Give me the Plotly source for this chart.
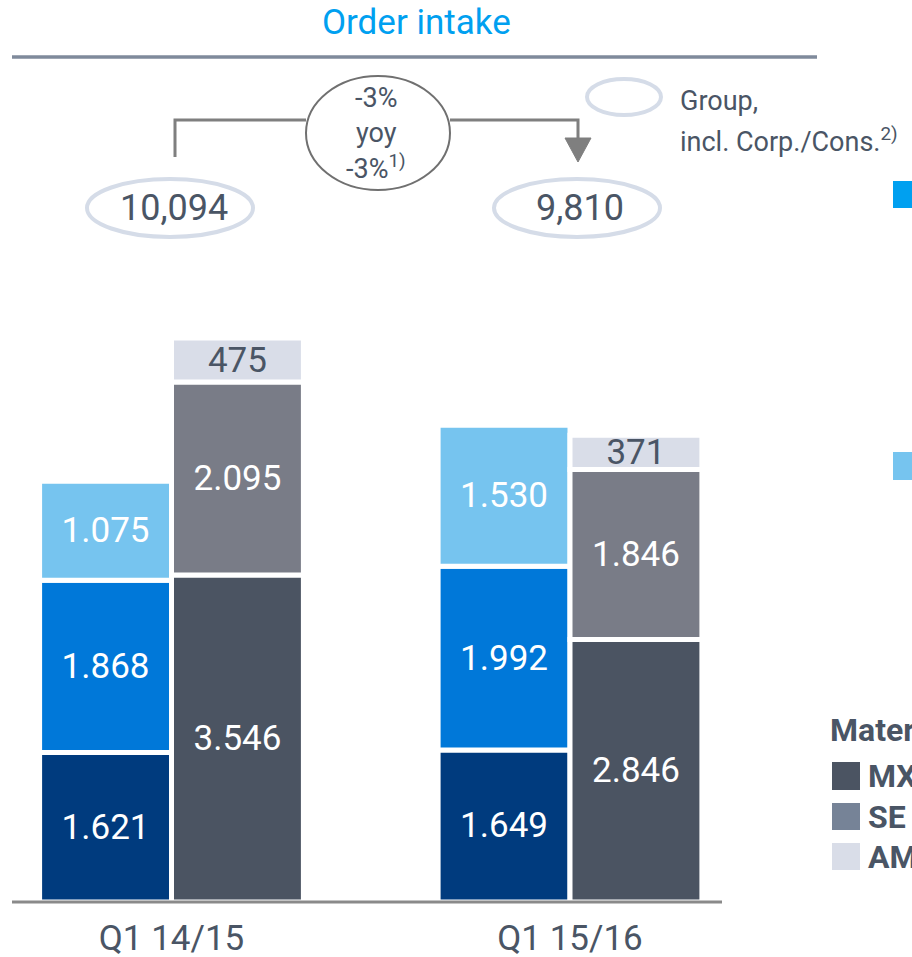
import plotly.graph_objects as go

# ---------------- data ----------------
categories = ["Q1 14/15", "Q1 15/16"]
components_technology = [1621, 1649]
elevator_technology = [1868, 1992]
industrial_solutions = [1075, 1530]
materials_services = [3546, 2846]
steel_europe = [2095, 1846]
steel_americas = [475, 371]
group_totals = [10094, 9810]
yoy_lines = ["-3%", "yoy", "-3%<sup>1)</sup>"]
legend_materials = ["MX", "SE", "AM"]

# ---------------- style ----------------
FONT = "Roboto"
TXT = "#4A5565"
C_NAVY = "#003B7E"
C_BLUE = "#0078D9"
C_LBLUE = "#76C4EF"
C_MX = "#4B5462"
C_SE = "#797C87"
C_AM = "#D9DDE8"

W, H = 912, 957
PLOT_H = 902


def px(x):
    return x / W


def py(y):
    return 1 - y / PLOT_H


def fmt_de(v):
    return f"{v:,}".replace(",", ".")


fig = go.Figure()


def add_stack(series, colors, group, textcolors):
    base = [0] * len(categories)
    for name, vals, col, tcol in zip(series[0], series[1], colors, textcolors):
        fig.add_trace(go.Bar(
            x=categories, y=vals, base=list(base), name=name,
            offsetgroup=group,
            marker=dict(color=col, line=dict(color="white", width=5)),
            text=[fmt_de(v) for v in vals], texttemplate="%{text}",
            textposition="inside", insidetextanchor="middle",
            constraintext="none", textangle=0,
            textfont=dict(family=FONT, size=35, color=tcol),
            hoverinfo="skip", showlegend=False,
        ))
        base = [b + v for b, v in zip(base, vals)]


add_stack((["Components Technology", "Elevator Technology", "Industrial Solutions"],
           [components_technology, elevator_technology, industrial_solutions]),
          [C_NAVY, C_BLUE, C_LBLUE], "capital", ["white", "white", "white"])
add_stack((["Materials Services", "Steel Europe", "Steel Americas"],
           [materials_services, steel_europe, steel_americas]),
          [C_MX, C_SE, C_AM], "materials", ["white", "white", TXT])

shapes = []
# title underline
shapes.append(dict(type="line", xref="paper", yref="paper", x0=px(12), x1=px(817),
                   y0=py(57), y1=py(57), line=dict(color="#7F8A9B", width=3.5)))
# baseline
shapes.append(dict(type="line", xref="paper", yref="paper", x0=px(12), x1=px(722),
                   y0=py(902), y1=py(902), line=dict(color="#8A8A8A", width=3), layer="above"))
# legend oval
shapes.append(dict(type="circle", xref="paper", yref="paper", x0=px(587), x1=px(661),
                   y0=py(79), y1=py(115), line=dict(color="#D5DCE8", width=4)))
# total ovals
shapes.append(dict(type="circle", xref="paper", yref="paper", x0=px(87), x1=px(253),
                   y0=py(179), y1=py(237), line=dict(color="#D5DCE8", width=4)))
shapes.append(dict(type="circle", xref="paper", yref="paper", x0=px(494), x1=px(660),
                   y0=py(179), y1=py(237), line=dict(color="#D5DCE8", width=4)))
# yoy oval
shapes.append(dict(type="circle", xref="paper", yref="paper", x0=px(306), x1=px(450),
                   y0=py(76), y1=py(190), line=dict(color="#707070", width=2)))
# connectors
shapes.append(dict(type="path", xref="paper", yref="paper",
                   path=f"M {px(175)} {py(157)} L {px(175)} {py(120)} L {px(306)} {py(120)}",
                   line=dict(color="#7F7F7F", width=3)))
shapes.append(dict(type="path", xref="paper", yref="paper",
                   path=f"M {px(450)} {py(120)} L {px(578)} {py(120)} L {px(578)} {py(140)}",
                   line=dict(color="#7F7F7F", width=3)))
shapes.append(dict(type="path", xref="paper", yref="paper",
                   path=f"M {px(565)} {py(138)} L {px(591)} {py(138)} L {px(578)} {py(162)} Z",
                   fillcolor="#7F7F7F", line=dict(color="#7F7F7F", width=1)))
# right-edge legend squares (capital goods)
for (y0, y1, col) in [(181, 208, "#00A0F0"), (452, 480, C_LBLUE)]:
    shapes.append(dict(type="rect", xref="paper", yref="paper", x0=px(893), x1=px(914),
                       y0=py(y0), y1=py(y1), fillcolor=col, line=dict(width=0)))
# materials legend squares
for (y0, y1, col) in [(762, 790, C_MX), (803, 830, "#768397"), (843, 870, C_AM)]:
    shapes.append(dict(type="rect", xref="paper", yref="paper", x0=px(832), x1=px(860),
                       y0=py(y0), y1=py(y1), fillcolor=col, line=dict(width=0)))

ann = []


def add_text(text, x, y, size, color=TXT, xanchor="center", bold=False):
    ann.append(dict(text=f"<b>{text}</b>" if bold else text, xref="paper", yref="paper",
                    x=px(x), y=py(y), xanchor=xanchor, yanchor="middle", showarrow=False,
                    font=dict(family=FONT, size=size, color=color)))


add_text("Order intake", 416, 22, 35, color="#00A0F0")
add_text(f"{group_totals[0]:,}", 174, 208, 36)
add_text(f"{group_totals[1]:,}", 580, 208, 36)
for t, yy in zip(yoy_lines, [98, 133, 167]):
    add_text(t, 376, yy, 27)
add_text("Group,", 678, 101, 27, xanchor="left")
add_text("incl. Corp./Cons.<sup>2)</sup>", 678, 140, 27, xanchor="left")
add_text("Materials", 828, 730, 32, xanchor="left", bold=True)
for t, yy in zip(legend_materials, [776, 817, 857]):
    add_text(t, 866, yy, 32, xanchor="left", bold=True)

# x-range so that category centres land at 171.5 px and 570 px
x_lo = (0 - 171.5) / 398.5
x_hi = (W - 171.5) / 398.5
k = 0.0922  # px per million

fig.update_layout(
    width=W, height=H,
    margin=dict(l=0, r=0, t=0, b=H - PLOT_H, pad=0, autoexpand=False),
    paper_bgcolor="white", plot_bgcolor="white",
    barmode="group", bargap=0.338, bargroupgap=0,
    xaxis=dict(type="category", categoryorder="array", categoryarray=categories,
               range=[x_lo, x_hi], showgrid=False, zeroline=False, showline=False,
               automargin=False,
               ticks="outside", ticklen=5, tickcolor="rgba(0,0,0,0)",
               tickfont=dict(family=FONT, size=35, color=TXT), fixedrange=True),
    yaxis=dict(range=[0, PLOT_H / k], visible=False, fixedrange=True, automargin=False),
    shapes=shapes, annotations=ann, showlegend=False,
    font=dict(family=FONT, color=TXT),
)

fig.write_html(
    "out.html",
    config={"displayModeBar": False},
    post_script="document.body.style.margin='0';document.body.style.overflow='hidden';",
)
